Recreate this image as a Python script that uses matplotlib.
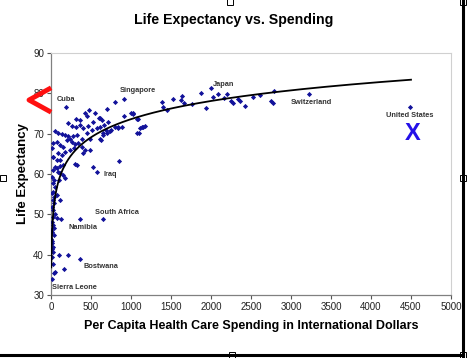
import numpy as np
import matplotlib
matplotlib.use("Agg")
import matplotlib.pyplot as plt
from matplotlib.lines import Line2D
from matplotlib.patches import Rectangle

plt.rcParams['font.family'] = ['Liberation Sans', 'DejaVu Sans']

# Per capita health spending (international $) and life expectancy (years)
spending = [183, 475, 696, 800, 912, 363, 313, 425, 550, 612, 454, 529, 642, 717,
            1000, 1029, 1079, 217, 258, 313, 363, 404, 467, 508, 571, 612, 662, 688,
            800, 842, 883, 50, 92, 133, 175, 217, 238, 279, 329, 383, 446, 488, 612,
            654, 696, 738, 1071, 1146, 1113, 8, 29, 71, 113, 154, 196, 258, 300, 342,
            383, 425, 238, 288, 488, 29, 92, 133, 175, 21, 71, 113, 154, 321, 300, 404,
            113, 50, 29, 71, 92, 113, 154, 175, 8, 38, 21, 50, 21, 71, 38, 104, 8, 21,
            38, 17, 29, 50, 21, 71, 113, 12, 29, 42, 17, 38, 121, 363, 654, 571, 521,
            854, 8, 21, 29, 12, 104, 217, 163, 363, 50, 33, 29, 16, 4, 6, 12, 8,
            600, 912, 1019, 1083, 1133, 1104, 842, 754, 650, 625, 1180,
            1383, 1404, 1456, 1529, 1621, 1633, 1667, 1767, 1871, 1933, 2000, 2029,
            2092, 2163, 2204, 2250, 2271, 2338, 2360, 2425, 2529, 2613, 2750, 2770,
            2792, 3221, 4483]
life_exp = [76.7, 75.9, 76.0, 77.9, 78.7, 73.4, 73.6, 75.2, 75.2, 74.0, 74.4, 73.0,
            73.4, 73.0, 75.2, 74.9, 73.6, 72.7, 71.9, 71.7, 72.1, 71.5, 71.9, 70.9,
            71.3, 71.6, 72.1, 70.9, 71.6, 71.3, 71.7, 70.7, 70.2, 69.9, 69.7, 69.3,
            68.6, 69.3, 69.7, 68.8, 70.1, 68.8, 68.8, 69.7, 70.1, 70.7, 70.1, 71.7,
            71.3, 66.4, 67.6, 68.0, 67.2, 66.8, 68.4, 68.0, 67.4, 67.6, 66.8, 66.0,
            66.0, 66.4, 66.0, 64.3, 65.1, 64.7, 65.5, 64.1, 63.5, 63.5, 62.2, 62.2,
            62.6, 65.1, 62.0, 61.8, 61.0, 61.4, 60.6, 60.2, 59.8, 58.9, 59.3, 58.5,
            57.7, 56.9, 55.6, 54.8, 54.4, 58.5, 55.2, 53.6, 52.7, 51.9, 51.1, 50.2,
            49.4, 49.0, 53.6, 48.2, 47.4, 46.5, 45.7, 44.9, 48.8, 48.8, 48.8, 60.6,
            61.8, 63.3, 42.8, 42.0, 40.7, 39.5, 39.8, 39.9, 36.5, 38.9, 35.8, 35.4,
            37.7, 34.0, 46.0, 44.0, 43.5, 41.5,
            74.0, 74.4, 75.1, 73.6, 71.6, 70.2, 71.6, 71.0, 70.2, 68.4, 72.0,
            77.9, 76.7, 75.9, 78.6, 78.4, 79.4, 77.7, 77.4, 80.0, 76.3, 81.2, 79.0,
            79.8, 78.9, 79.8, 78.0, 77.7, 78.6, 78.2, 76.9, 79.0, 79.7, 78.0, 77.6,
            80.7, 79.9, 76.7]

# Labelled countries: (name, text x, text y)
label_names = ['Cuba', 'Singapore', 'Japan', 'Switzerland', 'United States',
               'Iraq', 'South Africa', 'Namibia', 'Bostwana', 'Sierra Leone']
label_x = [70, 862, 2029, 3000, 4483, 662, 550, 216, 404, 16]
label_y = [78.4, 80.7, 82.2, 77.8, 74.5, 59.9, 50.5, 46.7, 37.0, 31.8]

# Logarithmic trend line coefficients: y = a*ln(x) + b
trend_a = 6.5
trend_b = 28.7
trend_x_range = (3.5, 4500)

x_ticks = list(range(0, 5001, 500))
y_ticks = list(range(30, 91, 10))

W, H = 467, 358
fig = plt.figure(figsize=(W / 100, H / 100), dpi=100)
fig.patch.set_facecolor('white')

ax = fig.add_axes([51 / W, 1 - 295 / H, 400 / W, 242 / H])
ax.set_xlim(0, 5000)
ax.set_ylim(30, 90)
ax.set_xticks(x_ticks)
ax.set_yticks(y_ticks)
ax.tick_params(direction='out', length=3, width=0.8, labelsize=7,
               color='#555555', labelcolor='#222222', pad=2)
for s in ['left', 'bottom']:
    ax.spines[s].set_color('#808080')
    ax.spines[s].set_linewidth(0.9)
for s in ['top', 'right']:
    ax.spines[s].set_color('#d0d0d0')
    ax.spines[s].set_linewidth(0.8)

ax.scatter(spending, life_exp, marker='D', s=7, color='#12129a',
           linewidths=0, zorder=3)

tx = np.geomspace(trend_x_range[0], trend_x_range[1], 400)
ax.plot(tx, trend_a * np.log(tx) + trend_b, color='black', lw=1.3, zorder=4)

for name, lx, ly in zip(label_names, label_x, label_y):
    ha = 'center' if name == 'United States' else 'left'
    ax.text(lx, ly, name, fontsize=5.3, fontweight='bold', color='#333333',
            ha=ha, va='center', zorder=5)

ax.set_xlabel('Per Capita Health Care Spending in International Dollars',
              fontsize=9, fontweight='bold', labelpad=6)
ax.set_ylabel('Life Expectancy', fontsize=9.5, fontweight='bold', labelpad=3)
fig.text(234 / W, 1 - 20 / H, 'Life Expectancy vs. Spending', fontsize=10.2,
         fontweight='bold', ha='center', va='center')

# red chevron annotation and blue X
fig.add_artist(Line2D([49 / W, 29 / W, 49 / W],
                      [1 - 89 / H, 1 - 100 / H, 1 - 111 / H],
                      color='#ff1010', lw=3.5, transform=fig.transFigure))
fig.text(413 / W, 1 - 134 / H, 'X', fontsize=17, fontweight='bold',
         color='#2410e8', ha='center', va='center')

# frame of the pasted chart and selection handles
fig.add_artist(Line2D([462.5 / W, 462.5 / W], [1, 1 - 356 / H], color='black',
                      lw=2.2, transform=fig.transFigure))
fig.add_artist(Line2D([0, 463 / W], [1 - 355 / H, 1 - 355 / H], color='black',
                      lw=2.2, transform=fig.transFigure))
for hx, hy in [(3, 178), (463, 178), (232, 355), (463, 355), (230, 2), (463, 2)]:
    fig.add_artist(Rectangle(((hx - 3) / W, 1 - (hy + 3) / H), 6 / W, 6 / H,
                             facecolor='white', edgecolor='black', lw=0.7,
                             transform=fig.transFigure))

fig.savefig('out.png', dpi=100)
